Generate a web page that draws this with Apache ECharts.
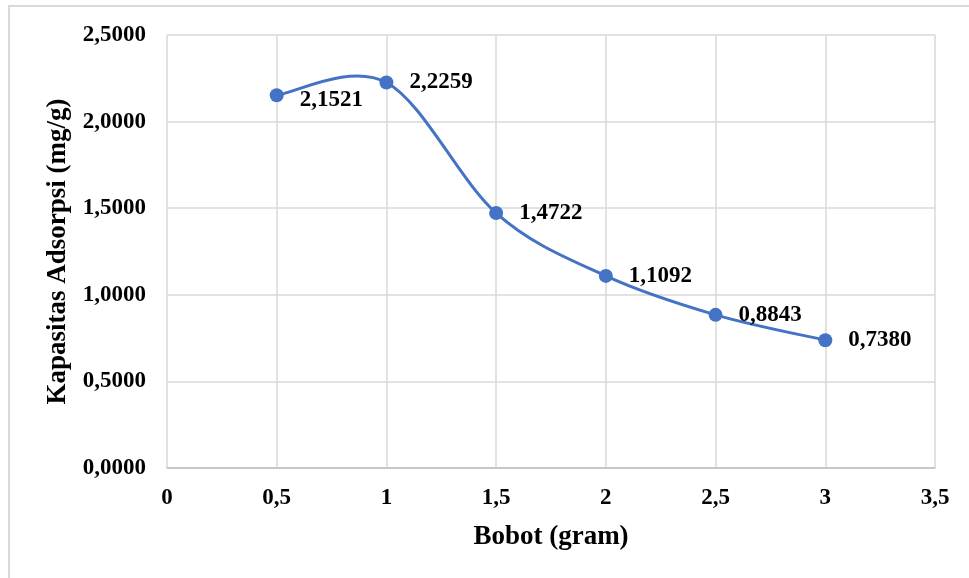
<!DOCTYPE html>
<html>
<head>
<meta charset="utf-8">
<script src="https://cdn.jsdelivr.net/npm/echarts@6/dist/echarts.min.js"></script>
<style>
  html, body { margin: 0; padding: 0; background: #fff; }
  #chart { width: 969px; height: 578px; }
</style>
</head>
<body>
<div id="chart"></div>
<script>
// data
var bobot = [0.5, 1, 1.5, 2, 2.5, 3];
var kapasitas = [2.1521, 2.2259, 1.4722, 1.1092, 0.8843, 0.7380];

var fontFam = '"Liberation Serif", "Times New Roman", serif';
var biru = '#4472c4';

function koma(v, d) {
    return v.toFixed(d).replace('.', ',');
}

var titik = bobot.map(function (x, i) { return [x, kapasitas[i]]; });

var labelData = titik.map(function (p, i) {
    var item = { value: p };
    if (i === 0) item.label = { offset: [0, 5] }; // label pertama sedikit turun
    return item;
});

var chart = echarts.init(document.getElementById('chart'));

// garis halus ala excel (catmull-rom -> bezier), titik dari skala sumbu
function renderKurva(params, api) {
    var n = bobot.length;
    var i = params.dataIndex;
    if (i >= n - 1) return { type: 'group', children: [] };
    function pt(j) {
        j = Math.max(0, Math.min(n - 1, j));
        return api.coord([bobot[j], kapasitas[j]]);
    }
    var p0 = pt(i - 1), p1 = pt(i), p2 = pt(i + 1), p3 = pt(i + 2);
    return {
        type: 'bezierCurve',
        shape: {
            x1: p1[0], y1: p1[1],
            x2: p2[0], y2: p2[1],
            cpx1: p1[0] + (p2[0] - p0[0]) / 6,
            cpy1: p1[1] + (p2[1] - p0[1]) / 6,
            cpx2: p2[0] - (p3[0] - p1[0]) / 6,
            cpy2: p2[1] - (p3[1] - p1[1]) / 6
        },
        style: { stroke: biru, lineWidth: 3, fill: 'none' }
    };
}

chart.setOption({
    animation: false,
    backgroundColor: '#fff',
    textStyle: { fontFamily: fontFam },
    graphic: [{
        type: 'rect',
        shape: { x: 9, y: 6, width: 980, height: 600 },
        style: { fill: 'none', stroke: '#d9d9d9', lineWidth: 2 },
        silent: true
    }],
    grid: { left: 167, top: 35, right: 34, bottom: 110 },
    xAxis: {
        type: 'value',
        min: 0,
        max: 3.5,
        interval: 0.5,
        name: 'Bobot (gram)',
        nameLocation: 'middle',
        nameGap: 56,
        nameTextStyle: { fontFamily: fontFam, fontWeight: 'bold', fontSize: 27, color: '#000' },
        axisLine: { show: true, lineStyle: { color: '#bfbfbf', width: 1.5 } },
        axisTick: { show: false },
        axisLabel: {
            margin: 19,
            fontFamily: fontFam, fontWeight: 'bold', fontSize: 23, color: '#000',
            formatter: function (v) { return String(v).replace('.', ','); }
        },
        splitLine: { show: true, lineStyle: { color: '#d9d9d9', width: 1.5 } }
    },
    yAxis: {
        type: 'value',
        min: 0,
        max: 2.5,
        interval: 0.5,
        name: 'Kapasitas Adsorpsi (mg/g)',
        nameLocation: 'middle',
        nameGap: 92,
        nameTextStyle: { fontFamily: fontFam, fontWeight: 'bold', fontSize: 27, color: '#000' },
        axisLine: { show: false },
        axisTick: { show: false },
        axisLabel: {
            margin: 21,
            fontFamily: fontFam, fontWeight: 'bold', fontSize: 23, color: '#000',
            formatter: function (v) { return koma(v, 4); }
        },
        splitLine: { show: true, lineStyle: { color: '#d9d9d9', width: 1.5 } }
    },
    series: [{
        type: 'custom',
        data: titik,
        encode: { x: 0, y: 1 },
        renderItem: renderKurva,
        silent: true,
        z: 2
    }, {
        type: 'scatter',
        data: labelData,
        symbol: 'circle',
        symbolSize: 14,
        itemStyle: { color: biru, opacity: 1 },
        z: 3,
        label: {
            show: true,
            position: 'right',
            distance: 16,
            fontFamily: fontFam, fontWeight: 'bold', fontSize: 23, color: '#000',
            formatter: function (p) { return koma(p.value[1], 4); }
        }
    }]
});
</script>
</body>
</html>
